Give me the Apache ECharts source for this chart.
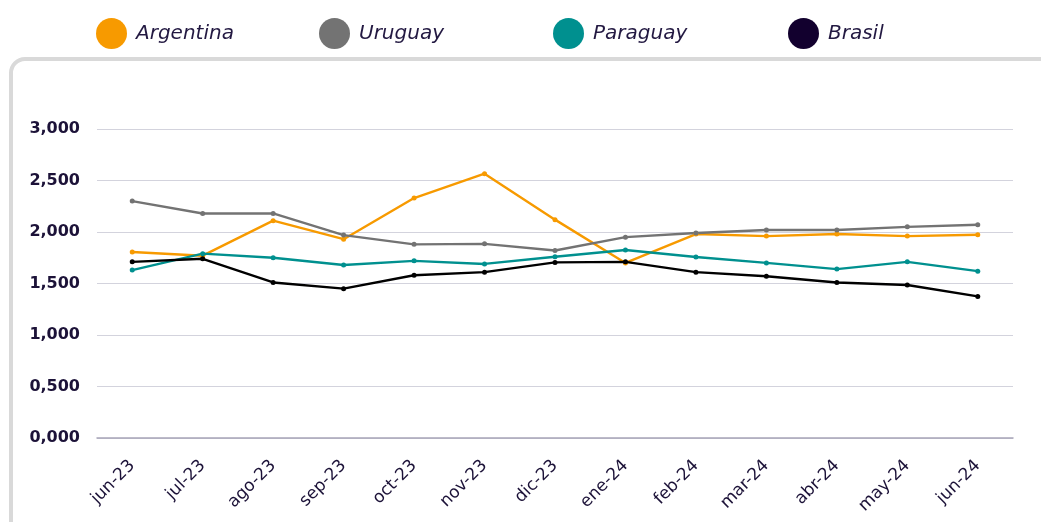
<!DOCTYPE html>
<html lang="es">
<head>
    <meta charset="UTF-8">
    <title>Precios por país</title>
    <script src="https://cdn.jsdelivr.net/npm/echarts@6/dist/echarts.min.js"></script>
    <style>
        html, body { margin: 0; padding: 0; background: #fff; }
        #chart { width: 1041px; height: 522px; }
    </style>
</head>
<body>
<div id="chart"></div>
<script>
    // datos
    var meses = ['jun-23', 'jul-23', 'ago-23', 'sep-23', 'oct-23', 'nov-23', 'dic-23',
        'ene-24', 'feb-24', 'mar-24', 'abr-24', 'may-24', 'jun-24'];
    var argentina = [1.806, 1.77, 2.11, 1.93, 2.33, 2.566, 2.12, 1.70, 1.98, 1.96, 1.98, 1.96, 1.974];
    var uruguay = [2.30, 2.18, 2.18, 1.97, 1.88, 1.885, 1.82, 1.95, 1.99, 2.02, 2.02, 2.05, 2.07];
    var paraguay = [1.63, 1.79, 1.75, 1.68, 1.72, 1.69, 1.76, 1.825, 1.757, 1.70, 1.64, 1.71, 1.62];
    var brasil = [1.71, 1.74, 1.51, 1.45, 1.58, 1.61, 1.705, 1.71, 1.61, 1.57, 1.51, 1.485, 1.375];

    var paises = ['Argentina', 'Uruguay', 'Paraguay', 'Brasil'];
    var colores = ['#f79a00', '#737373', '#00908f', '#000000'];
    var coloresLeyenda = ['#f79a00', '#737373', '#00908f', '#12002e'];
    var valores = [argentina, uruguay, paraguay, brasil];
    var leyendaX = [96, 319, 553, 788];

    var texto = '#1c1238';
    var fuente = '"DejaVu Sans", sans-serif';

    var chart = echarts.init(document.getElementById('chart'));

    // una leyenda por país para poder colocarlas donde están
    var leyendas = paises.map(function (p, i) {
        return {
            left: leyendaX[i],
            top: 18,
            padding: 0,
            icon: 'circle',
            itemWidth: 31,
            itemHeight: 31,
            data: [{ name: p, itemStyle: { color: coloresLeyenda[i] } }],
            textStyle: {
                fontFamily: fuente,
                fontStyle: 'italic',
                fontSize: 20,
                color: '#231942',
                padding: [0, 0, 0, 4]
            }
        };
    });

    var series = paises.map(function (p, i) {
        return {
            name: p,
            type: 'line',
            data: valores[i],
            symbol: 'circle',
            symbolSize: 5,
            color: colores[i],
            lineStyle: { width: 2.4, color: colores[i] },
            itemStyle: { color: colores[i] },
            z: i === 3 ? 5 : 2
        };
    });

    chart.setOption({
        animation: false,
        legend: leyendas,
        graphic: [{
            type: 'rect',
            shape: { x: 11, y: 59, width: 1100, height: 520, r: 14 },
            style: { fill: 'none', stroke: '#d9d9d9', lineWidth: 4 },
            silent: true
        }],
        grid: { left: 97, right: 28, top: 129, bottom: 84 },
        xAxis: {
            type: 'category',
            data: meses,
            boundaryGap: true,
            axisLine: { lineStyle: { color: '#a8a5b8', width: 1.5 } },
            axisTick: { show: false },
            axisLabel: {
                rotate: 45,
                fontFamily: fuente,
                fontSize: 17,
                fontWeight: 500,
                color: texto,
                margin: 25
            }
        },
        yAxis: {
            type: 'value',
            min: 0,
            max: 3,
            interval: 0.5,
            axisLine: { show: false },
            axisTick: { show: false },
            splitLine: { lineStyle: { color: '#d3d3dd', width: 1.2 } },
            axisLabel: {
                fontFamily: fuente,
                fontSize: 16,
                fontWeight: 'bold',
                color: texto,
                margin: 17,
                formatter: function (v) {
                    return v.toFixed(3).replace('.', ',');
                }
            }
        },
        series: series
    });
</script>
</body>
</html>
